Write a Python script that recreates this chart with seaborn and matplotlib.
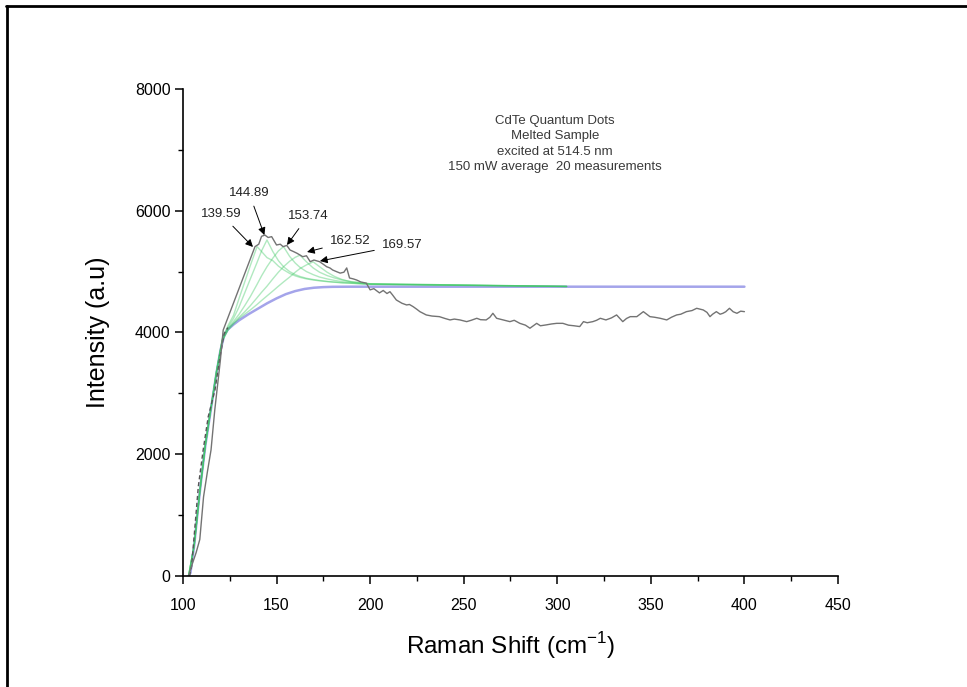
import numpy as np
import pandas as pd
import matplotlib
matplotlib.use("Agg")
import matplotlib.pyplot as plt
from matplotlib.lines import Line2D
from matplotlib.ticker import MultipleLocator
import seaborn as sns

# ---------------- data ----------------
raman_x = [103, 105, 107, 109, 111, 113, 115, 117, 120, 121.5, 138.5, 140.5, 142, 143.8, 145.5,
           147.4, 150, 152, 153.5, 155.5, 157.2, 159, 161, 164, 166, 168, 170, 173, 175, 176.8,
           178.5, 180, 182, 184, 186, 187.5, 189, 191, 192.8, 195, 198, 200, 202, 205, 207, 209,
           210.6, 212, 214, 217, 219.5, 221, 223, 225, 226.6, 228, 230, 233, 237, 240, 242.7,
           245, 248, 251.6, 254, 257, 259, 262, 264, 265.6, 267.6, 274.7, 277, 280, 283, 285.4,
           289, 291, 294, 297, 299.7, 303, 306, 309, 312, 314, 316, 319, 321, 323, 326, 329,
           331.7, 335, 337, 339, 342.5, 346, 349.5, 352, 355, 358.5, 361, 363.8, 366, 369, 372,
           374.5, 378, 380, 381.6, 383, 385, 387, 388.5, 390, 392, 394, 396, 398, 400]
raman_y = [0, 200, 380, 600, 1300, 1700, 2070, 2727, 3548, 4040, 5410, 5450, 5580, 5600, 5560,
           5574, 5437, 5450, 5410, 5430, 5355, 5330, 5300, 5245, 5260, 5163, 5190, 5163, 5120, 5080,
           5060, 5026, 5000, 4975, 4990, 5060, 4895, 4880, 4862, 4830, 4810, 4700, 4720, 4650, 4690, 4640,
           4670, 4616, 4534, 4480, 4452, 4460, 4424, 4380, 4342, 4320, 4288, 4270, 4260, 4230, 4206,
           4220, 4206, 4178, 4200, 4233, 4210, 4206, 4250, 4315, 4233, 4178, 4200, 4150, 4120, 4070,
           4150, 4110, 4124, 4140, 4150, 4150, 4120, 4110, 4097, 4178, 4160, 4178, 4200, 4233, 4206, 4240,
           4288, 4178, 4230, 4260, 4260, 4342, 4260, 4250, 4233, 4206, 4250, 4288, 4300, 4342, 4360,
           4397, 4370, 4330, 4260, 4300, 4342, 4300, 4315, 4340, 4397, 4340, 4315, 4350, 4342]

# dashed trace in the rising edge
rise_x = [103.5, 104.6, 106.4, 108.2, 110.8, 113.5, 117.1, 119.8, 122, 124]
rise_y = [0, 153, 810, 1467, 2070, 2617, 3055, 3600, 3980, 4080]

# baseline (blue)
base_x = [103, 104, 106, 108, 110, 112, 114, 116, 118, 120, 122, 124, 127, 130, 135, 140, 145,
          150, 155, 160, 165, 170, 175, 180, 190, 400]
base_y = [0, 50, 500, 1100, 1650, 2150, 2550, 2950, 3350, 3700, 3950, 4050, 4130, 4200, 4300,
          4390, 4480, 4560, 4630, 4680, 4715, 4735, 4745, 4750, 4752, 4752]

# fitted peak curves (baseline + peak)
peak_labels = ["139.59", "144.89", "153.74", "162.52", "169.57"]
peak_x = [103, 106, 109, 112, 115, 118, 121, 124, 127, 130, 133, 136, 139.59, 142, 144.89, 148,
          151, 153.74, 157, 160, 162.52, 166, 169.57, 173, 177, 181, 185, 190, 200, 305]
peak_1 = [0, 505, 1385, 2160, 2765, 3370, 3900, 4110, 4280, 4560, 4830, 5100, 5410, 5330, 5230,
          5180, 5090, 5030, 4970, 4930, 4905, 4880, 4862, 4848, 4835, 4825, 4815, 4808, 4790, 4755]
peak_2 = [0, 505, 1385, 2160, 2765, 3370, 3880, 4080, 4230, 4420, 4650, 4880, 5150, 5340, 5520,
          5330, 5180, 5080, 5000, 4950, 4920, 4890, 4870, 4855, 4840, 4828, 4818, 4810, 4792, 4755]
peak_3 = [0, 505, 1385, 2160, 2765, 3370, 3870, 4060, 4180, 4300, 4440, 4590, 4790, 4930, 5080,
          5220, 5340, 5410, 5250, 5140, 5070, 5000, 4950, 4910, 4880, 4855, 4835, 4820, 4795, 4756]
peak_4 = [0, 505, 1385, 2160, 2765, 3370, 3862, 4045, 4155, 4250, 4340, 4440, 4570, 4660, 4760,
          4880, 4990, 5080, 5170, 5235, 5270, 5160, 5060, 4990, 4935, 4895, 4862, 4835, 4800, 4757]
peak_5 = [0, 505, 1385, 2160, 2765, 3370, 3858, 4035, 4140, 4230, 4300, 4370, 4460, 4525, 4600,
          4680, 4760, 4830, 4910, 4990, 5050, 5110, 5160, 5080, 4990, 4920, 4870, 4830, 4800, 4757]

# annotation positions (tip = point on spectrum, text = label location)
ann_tip_x = [137.4, 143.5, 155.6, 166.3, 173.2]
ann_tip_y = [5405, 5600, 5437, 5322, 5174]
ann_txt_x = [120.3, 135.3, 166.8, 189.2, 217.0]
ann_txt_y = [5947, 6292, 5914, 5503, 5437]

info_lines = ["CdTe Quantum Dots", "Melted Sample", "excited at 514.5 nm",
              "150 mW average  20 measurements"]

x_label = "Raman Shift (cm$^{-1}$)"
y_label = "Intensity (a.u)"

# ---------------- style ----------------
sns.set_theme(style="ticks")
plt.rcParams["font.family"] = ["Liberation Sans", "DejaVu Sans"]
plt.rcParams["mathtext.fontset"] = "custom"
plt.rcParams["mathtext.rm"] = "Liberation Sans"
plt.rcParams["text.color"] = "black"
plt.rcParams["axes.labelcolor"] = "black"
plt.rcParams["xtick.color"] = "black"
plt.rcParams["ytick.color"] = "black"

fig = plt.figure(figsize=(9.67, 6.87), dpi=100)
ax = fig.add_axes([0.1892, 0.1616, 0.8666 - 0.1892, 0.8705 - 0.1616])

# page frame (top and left)
fig.add_artist(Line2D([0.007, 0.007], [0.0, 0.991], transform=fig.transFigure, color="black", lw=2))
fig.add_artist(Line2D([0.006, 1.0], [0.991, 0.991], transform=fig.transFigure, color="black", lw=2))

# baseline
sns.lineplot(x=base_x, y=base_y, ax=ax, color="#a4a4ea", lw=1.8, sort=False, estimator=None)

# peak curves
for ys in [peak_1, peak_2, peak_3, peak_4, peak_5]:
    sns.lineplot(x=peak_x, y=ys, ax=ax, color="#3cc862", lw=1.0, alpha=0.4,
                 sort=False, estimator=None)

# dashed rising trace
sns.lineplot(x=rise_x, y=rise_y, ax=ax, color="#555555", lw=1.0, sort=False, estimator=None,
             linestyle=(0, (3, 2)))

# spectrum
sns.lineplot(x=raman_x, y=raman_y, ax=ax, color="#737373", lw=1.0, sort=False, estimator=None)

# peak annotations
for lab, tx, ty, px, py in zip(peak_labels, ann_txt_x, ann_txt_y, ann_tip_x, ann_tip_y):
    ax.annotate(lab, xy=(px, py), xytext=(tx, ty), ha="center", va="center", fontsize=9.5,
                color="#222222",
                arrowprops=dict(arrowstyle="-|>", color="black", lw=0.7, mutation_scale=11,
                                shrinkA=3, shrinkB=0))

ax.text(298.8, 7580, "\n".join(info_lines), ha="center", va="top", fontsize=9.5,
        color="#3a3a3a", linespacing=1.4)

# axes
ax.set_xlim(100, 450)
ax.set_ylim(0, 8000)
ax.set_xticks([100, 150, 200, 250, 300, 350, 400, 450])
ax.set_yticks([0, 2000, 4000, 6000, 8000])
ax.xaxis.set_minor_locator(MultipleLocator(25))
ax.yaxis.set_minor_locator(MultipleLocator(1000))
ax.tick_params(axis="both", which="major", direction="out", length=6, width=1.1,
               labelsize=11.5, colors="black")
ax.tick_params(axis="x", which="major", pad=10)
ax.tick_params(axis="y", which="major", pad=3)
ax.tick_params(axis="both", which="minor", direction="out", length=3.5, width=1.0)
for s in ["top", "right"]:
    ax.spines[s].set_visible(False)
for s in ["left", "bottom"]:
    ax.spines[s].set_linewidth(1.2)
    ax.spines[s].set_color("black")
ax.set_xlabel(x_label, fontsize=17.5, labelpad=12)
ax.set_ylabel(y_label, fontsize=18, labelpad=18)
ax.grid(False)

fig.savefig("out.png", dpi=100, facecolor="white")
